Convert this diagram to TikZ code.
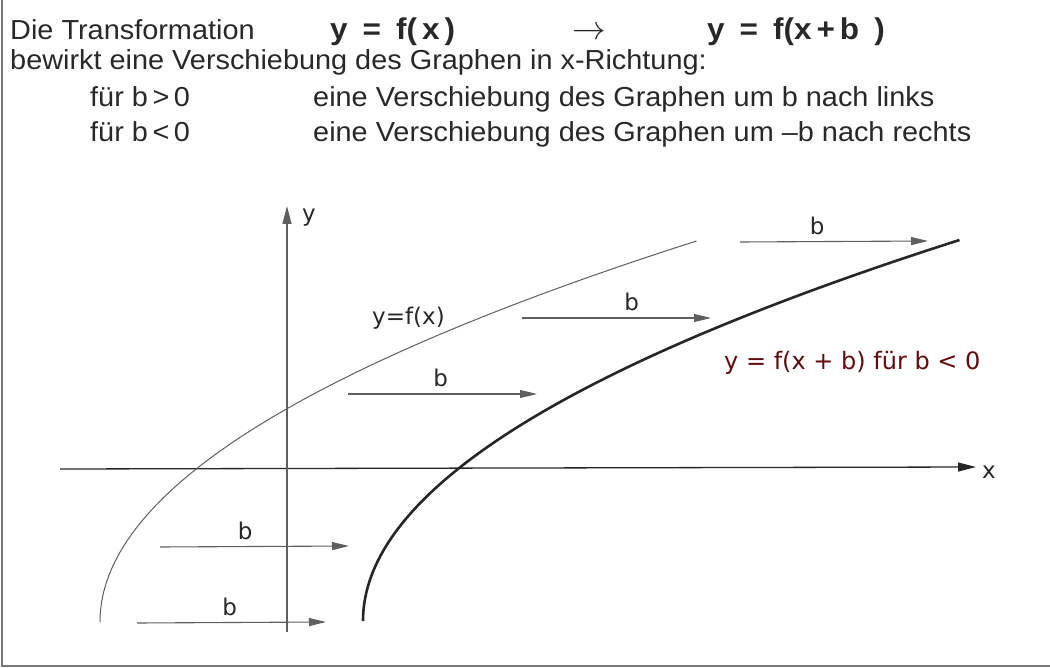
\documentclass[tikz,border=0pt]{standalone}
\usepackage{fontspec}
\setmainfont{Liberation Sans}[FakeStretch=1.05]
\newfontfamily\labelfont{DejaVu Sans}
\usetikzlibrary{arrows.meta,positioning}
\definecolor{txtgray}{RGB}{40,40,40}
\definecolor{linegray}{RGB}{95,95,95}
\definecolor{framegray}{RGB}{120,120,120}
\definecolor{labelred}{RGB}{100,10,10}

\begin{document}
\begin{tikzpicture}[x=1pt, y=-1pt,
    txt/.style={anchor=base west, inner sep=0pt, text=txtgray, font=\fontsize{27.5}{30}\selectfont},
    formula/.style={txt, font=\fontsize{30}{32}\bfseries},
    lbl/.style={text=txtgray, font=\labelfont\fontsize{23}{26}\selectfont},
    axis/.style={-{Triangle[length=18pt,width=9pt]}, line width=1.3pt},
    shiftarrow/.style={-{Triangle[length=17pt,width=8pt]}, line width=1.1pt, linegray},
    graph/.style={line width=1pt, linegray},
    moved/.style={line width=2.6pt, black!85}
]
    \useasboundingbox (0,0) rectangle (1050,668);
    % frame
    \draw[framegray, line width=2pt] (2,0) -- (2,666) -- (1050,666);

    % text above the diagram
    \node[txt] (intro) at (10,40) {Die Transformation};
    \node[formula] (fx) at (330,40) {y\enspace=\enspace f(\,x\,)};
    \node[txt, scale=1.35] (to) at (572,40) {$\rightarrow$};
    \node[formula] (fxb) at (707,40) {y\enspace=\enspace f(x\,+\,b\enspace)};
    \node[txt] (effect) at (10,70) {bewirkt eine Verschiebung des Graphen in x-Richtung:};
    \node[txt] (bpos) at (90,107) {für b\,>\,0};
    \node[txt] (bposdesc) at (313,107) {eine Verschiebung des Graphen um b nach links};
    \node[txt] (bneg) at (90,142) {für b\,<\,0};
    \node[txt] (bnegdesc) at (313,142) {eine Verschiebung des Graphen um –b nach rechts};

    % axes
    \coordinate (xstart) at (60,469);
    \coordinate (xend) at (976,467);
    \coordinate (ystart) at (287,632);
    \coordinate (yend) at (287,206);
    \draw[axis, black!85] (xstart) -- (xend);
    \draw[axis, linegray] (ystart) -- (yend);
    \node[lbl, anchor=base west, inner sep=0pt] (xlab) at (982,478) {x};
    \node[lbl, anchor=base west, inner sep=0pt] (ylab) at (302,222) {y};

    % graphs
    \draw[graph] plot[domain=0:381, samples=90] ({100+(\x/15.6)^2}, {622-\x});
    \draw[moved] plot[domain=0:381, samples=90] ({363+(\x/15.6)^2}, {621-\x});
    \node[lbl, anchor=base west, inner sep=0pt] (flab) at (372,325) {y=f(x)};
    \node[lbl, anchor=base west, inner sep=0pt, text=labelred, font=\labelfont\fontsize{24}{28}\selectfont] (fblab) at (724,370) {y = f(x + b) für b < 0};

    % shift arrows
    \coordinate (s1) at (137,623);
    \coordinate (e1) at (326,622);
    \coordinate (s2) at (160,547);
    \coordinate (e2) at (349,546);
    \coordinate (s3) at (348,394);
    \coordinate (e3) at (537,394);
    \coordinate (s4) at (522,318);
    \coordinate (e4) at (711,318);
    \coordinate (s5) at (740,242);
    \coordinate (e5) at (928,241);
    \draw[shiftarrow] (s1) -- node[lbl, above=3pt, pos=0.49] (b1) {b} (e1);
    \draw[shiftarrow] (s2) -- node[lbl, above=3pt, pos=0.45] (b2) {b} (e2);
    \draw[shiftarrow] (s3) -- node[lbl, above=3pt, pos=0.49] (b3) {b} (e3);
    \draw[shiftarrow] (s4) -- node[lbl, above=3pt, pos=0.58] (b4) {b} (e4);
    \draw[shiftarrow] (s5) -- node[lbl, above=3pt, pos=0.41] (b5) {b} (e5);
\end{tikzpicture}
\end{document}
